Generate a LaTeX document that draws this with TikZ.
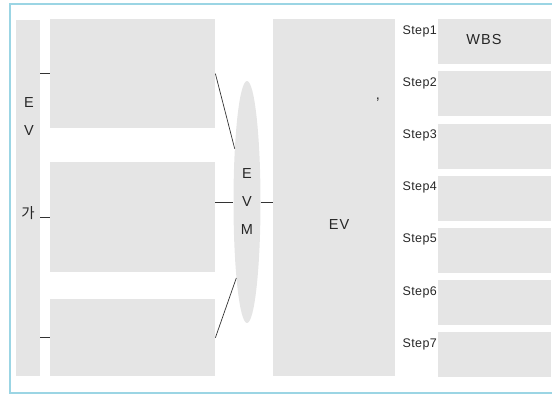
\documentclass[tikz,border=0pt]{standalone}
\usepackage{fontspec}
\setmainfont{Liberation Sans}
\newfontfamily\krfont{Noto Sans CJK KR}
\newfontfamily\stepfont[LetterSpace=3]{Liberation Sans}
\newfontfamily\labelfont[LetterSpace=8]{Liberation Sans}
\usetikzlibrary{shapes.geometric, positioning, calc}
\definecolor{framecyan}{RGB}{155,213,228}
\definecolor{boxgray}{RGB}{229,229,229}

\begin{document}
\begin{tikzpicture}[x=1pt,y=-1pt]
    \tikzstyle{graybox} = [rectangle, fill=boxgray, draw=none, inner sep=0pt, anchor=north west]
    \tikzstyle{stepbox} = [rectangle, fill=boxgray, minimum width=113pt, minimum height=45pt, inner sep=0pt]
    \tikzstyle{steplabel} = [anchor=east, inner sep=0pt, text=black!85, font=\stepfont\fontsize{12.5}{14}\selectfont]
    \tikzstyle{biglabel} = [inner sep=0pt, text=black!85, font=\labelfont\fontsize{14.5}{16}\selectfont]
    \tikzstyle{link} = [line width=0.7pt, draw=black!80]
    \useasboundingbox (0,0) rectangle (552,394);
    \draw [framecyan, line width=2.5pt] (10,4) rectangle (570,393);
    % Nodes
    \node (evbar) [graybox, minimum width=24pt, minimum height=356pt] at (16,20) {};
    \node (evbarE) [biglabel] at (29,103) {E};
    \node (evbarV) [biglabel] at (29,131) {V};
    \node (evbarga) [biglabel] at (28,213) {\krfont 가};
    \node (boxA) [graybox, minimum width=165pt, minimum height=109pt] at (50,19) {};
    \node (boxB) [graybox, minimum width=165pt, minimum height=110pt] at (50,162) {};
    \node (boxC) [graybox, minimum width=165pt, minimum height=77pt] at (50,299) {};
    \node (evm) [ellipse, fill=boxgray, minimum width=27pt, minimum height=242pt, inner sep=0pt, align=center, text=black!85, font=\fontsize{14.5}{28}\selectfont] at (247,202) {E\\V\\M};
    \node (evbox) [graybox, minimum width=122pt, minimum height=357pt] at (273,19) {};
    \node (evlabel) [biglabel] at (339,225) {EV};
    \node (comma) [biglabel] at (378,100) {,};
    \node (box1) [stepbox, anchor=north west] at (438,19) {};
    \node (box2) [stepbox, below=6.8pt of box1] {};
    \node (box3) [stepbox, below=6.8pt of box2] {};
    \node (box4) [stepbox, below=6.8pt of box3] {};
    \node (box5) [stepbox, below=6.8pt of box4] {};
    \node (box6) [stepbox, below=6.8pt of box5] {};
    \node (box7) [stepbox, below=6.8pt of box6] {};
    \node (wbs) [biglabel] at (484,40) {WBS};
    \node (step1) [steplabel] at ($(box1.north west)+(-1,12)$) {Step1};
    \node (step2) [steplabel] at ($(box2.north west)+(-1,12)$) {Step2};
    \node (step3) [steplabel] at ($(box3.north west)+(-1,12)$) {Step3};
    \node (step4) [steplabel] at ($(box4.north west)+(-1,12)$) {Step4};
    \node (step5) [steplabel] at ($(box5.north west)+(-1,12)$) {Step5};
    \node (step6) [steplabel] at ($(box6.north west)+(-1,12)$) {Step6};
    \node (step7) [steplabel] at ($(box7.north west)+(-1,12)$) {Step7};
    % Connectors
    \draw [link] (evbar.east |- boxA.west) -- (boxA.west);
    \draw [link] (evbar.east |- boxB.west) -- (boxB.west);
    \draw [link] (evbar.east |- boxC.west) -- (boxC.west);
    \draw [link] (boxA.east) -- (evm.103);
    \draw [link] (boxB.east |- evm.west) -- (evm.west);
    \draw [link] (boxC.east) -- (evm.262);
    \draw [link] (evm.east) -- (evbox.west |- evm.east);
\end{tikzpicture}
\end{document}
